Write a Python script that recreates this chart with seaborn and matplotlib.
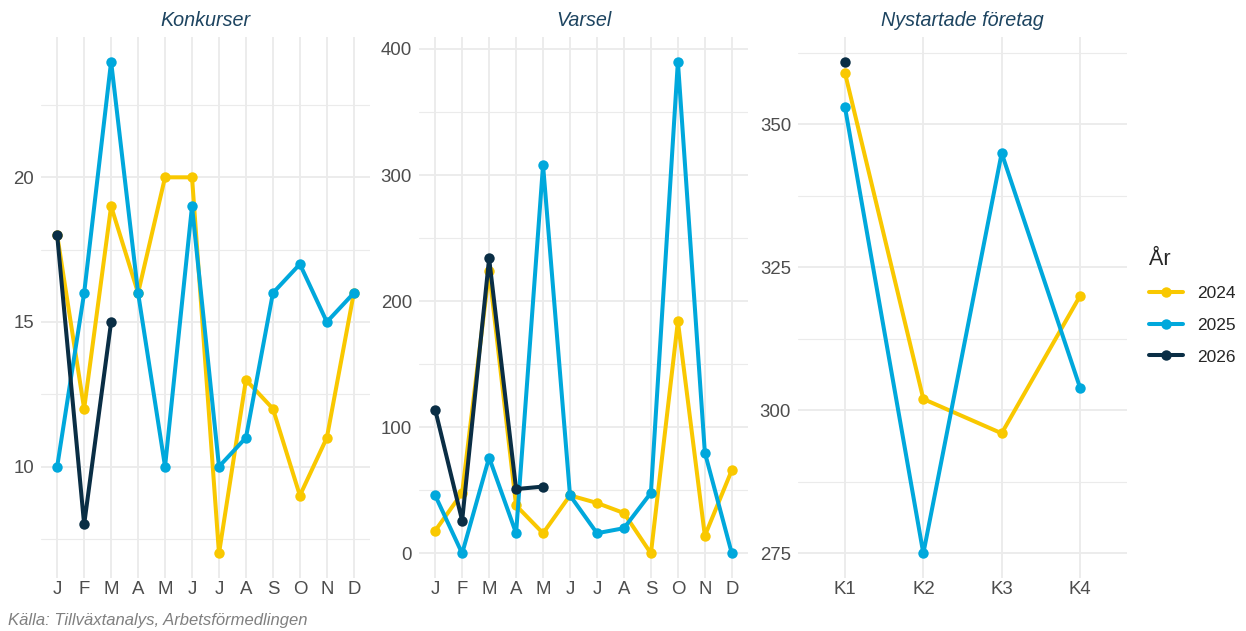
import pandas as pd
import seaborn as sns
import matplotlib.pyplot as plt
from matplotlib.lines import Line2D

# data
months = ["J", "F", "M", "A", "M", "J", "J", "A", "S", "O", "N", "D"]
quarters = ["K1", "K2", "K3", "K4"]
years = ["2024", "2025", "2026"]

konkurser_2024 = [18, 12, 19, 16, 20, 20, 7, 13, 12, 9, 11, 16]
konkurser_2025 = [10, 16, 24, 16, 10, 19, 10, 11, 16, 17, 15, 16]
konkurser_2026 = [18, 8, 15]

varsel_2024 = [18, 48, 224, 38, 16, 46, 40, 32, 0, 184, 14, 66]
varsel_2025 = [46, 0, 76, 16, 308, 46, 16, 20, 48, 390, 80, 0]
varsel_2026 = [114, 26, 234, 51, 53]

nystartade_2024 = [359, 302, 296, 320]
nystartade_2025 = [353, 275, 345, 304]
nystartade_2026 = [361]

colors = {"2024": "#F9C800", "2025": "#00A8DC", "2026": "#0A2E45"}
title_color = "#1D4460"
grid_color = "#EBEBEB"


def long_df(series):
    rows = []
    for year, vals in zip(years, series):
        for i, v in enumerate(vals):
            rows.append({"x": i + 1, "value": v, "year": year})
    return pd.DataFrame(rows)


panels = [
    ("Konkurser", long_df([konkurser_2024, konkurser_2025, konkurser_2026]), months,
     [10, 15, 20], [7.5, 12.5, 17.5, 22.5]),
    ("Varsel", long_df([varsel_2024, varsel_2025, varsel_2026]), months,
     [0, 100, 200, 300, 400], [50, 150, 250, 350]),
    ("Nystartade företag", long_df([nystartade_2024, nystartade_2025, nystartade_2026]), quarters,
     [275, 300, 325, 350], [287.5, 312.5, 337.5, 362.5]),
]

sns.set_style("white")
plt.rcParams["font.family"] = ["Liberation Sans", "DejaVu Sans"]

fig = plt.figure(figsize=(12.46, 6.31), dpi=100)
lefts = [41 / 1246, 419 / 1246, 798 / 1246]
width = 329 / 1246
bottom = 1 - 578 / 631
height = (578 - 37) / 631

for left, (title, df, labels, major, minor) in zip(lefts, panels):
    ax = fig.add_axes([left, bottom, width, height])
    sns.lineplot(data=df, x="x", y="value", hue="year", hue_order=years,
                 palette=colors, marker="o", markersize=7.5, markeredgewidth=0,
                 linewidth=2.9, legend=False, ax=ax, zorder=3)
    n = len(labels)
    ax.set_xlim(0.4, n + 0.6)
    lo, hi = df["value"].min(), df["value"].max()
    pad = (hi - lo) * 0.05
    ax.set_ylim(lo - pad, hi + pad)
    ax.set_xticks(range(1, n + 1))
    ax.set_xticklabels(labels)
    ax.set_yticks(major)
    ax.set_yticks(minor, minor=True)
    ax.grid(True, which="major", color=grid_color, linewidth=1.3, zorder=0)
    ax.grid(True, which="minor", axis="y", color=grid_color, linewidth=0.8, zorder=0)
    ax.set_axisbelow(True)
    for s in ax.spines.values():
        s.set_visible(False)
    ax.tick_params(which="both", length=0, labelsize=13.4, labelcolor="#4D4D4D")
    ax.tick_params(axis="x", pad=2)
    ax.tick_params(axis="y", pad=5)
    ax.set_xlabel("")
    ax.set_ylabel("")
    ax.set_title(title, fontsize=14.2, style="italic", color=title_color, pad=8)

handles = [Line2D([0], [0], color=colors[y], marker="o", markersize=7.5,
                  markeredgewidth=0, linewidth=2.9) for y in years]
leg = fig.legend(handles, years, title="År", loc="upper left",
                 bbox_to_anchor=(1133 / 1246, 1 - 233 / 631), frameon=False,
                 fontsize=12.5, title_fontsize=15.5, handlelength=2.0,
                 labelspacing=0.95, alignment="left")

fig.text(8 / 1246, 1 - 621 / 631, "Källa: Tillväxtanalys, Arbetsförmedlingen",
         style="italic", color="#808080", fontsize=12, va="center")

fig.savefig("out.png", dpi=100)
